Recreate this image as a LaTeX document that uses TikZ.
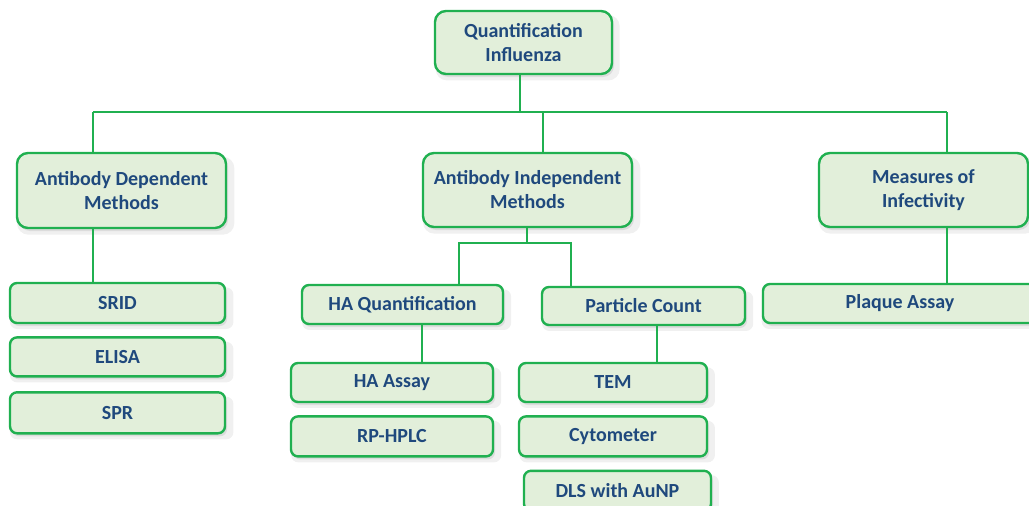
\documentclass[tikz,border=0pt]{standalone}
\usepackage{fontspec}
\setmainfont{Carlito}
\usepackage{tikz}
\usetikzlibrary{positioning, shadows}
\definecolor{BorderColor}{RGB}{32, 176, 80}
\definecolor{BoxColor}{RGB}{226, 239, 218}
\definecolor{TextColor}{RGB}{31, 73, 125}
\tikzset{
    method/.style={
        draw=BorderColor,
        line width=2.4pt,
        fill=BoxColor,
        rounded corners=11pt,
        align=center,
        font=\fontsize{20}{24}\selectfont\bfseries,
        text=TextColor,
        inner sep=0pt,
        drop shadow={opacity=0.12, shadow xshift=4pt, shadow yshift=-5pt, shadow scale=1.04},
        drop shadow={opacity=0.18, shadow xshift=2pt, shadow yshift=-3pt}
    },
    technique/.style={
        method,
        rounded corners=7pt,
        minimum height=39pt
    },
    link/.style={
        draw=BorderColor,
        line width=1.6pt
    }
}

\begin{document}
\begin{tikzpicture}[x=1pt, y=-1pt]

    \useasboundingbox (0,0) rectangle (1029,506);

    % ============================================================================
    % TOP LEVEL
    % ============================================================================

    \node[method, minimum width=177pt, minimum height=63pt] (Quantification) at (523.5, 42.5)
        {Quantification\\Influenza};

    % Level one: the three families of methods
    \node[method, minimum width=209pt, minimum height=75pt] (AbDependent) at (121.5, 190.5)
        {Antibody Dependent\\Methods};
    \node[method, minimum width=209pt, minimum height=74pt] (AbIndependent) at (527.5, 190)
        {Antibody Independent\\Methods};
    \node[method, minimum width=209pt, minimum height=74pt] (Infectivity) at (923.5, 190)
        {Measures of\\Infectivity};

    % ============================================================================
    % ANTIBODY DEPENDENT
    % ============================================================================

    \node[technique, minimum width=215pt, minimum height=40pt] (SRID) at (117.5, 303) {SRID};
    \node[technique, minimum width=215pt, below=12pt of SRID] (ELISA) {ELISA};
    \node[technique, minimum width=215pt, minimum height=41pt, below=13.5pt of ELISA] (SPR) {SPR};

    % ============================================================================
    % ANTIBODY INDEPENDENT
    % ============================================================================

    \node[technique, minimum width=201pt] (HAQuant) at (402.5, 304.5) {HA Quantification};
    \node[technique, minimum width=203pt, minimum height=38pt] (ParticleCount) at (643.5, 306) {Particle Count};

    % HA Quantification branch
    \node[technique, minimum width=202pt] (HAAssay) at (392, 382.5) {HA Assay};
    \node[technique, minimum width=202pt, minimum height=40pt, below=12pt of HAAssay] (RPHPLC) {RP-HPLC};

    % Particle Count branch
    \node[technique, minimum width=188pt] (TEM) at (613, 382.5) {TEM};
    \node[technique, minimum width=188pt, minimum height=40pt, below=12pt of TEM] (Cytometer) {Cytometer};
    \node[technique, minimum width=187pt, minimum height=40pt, below=12pt of Cytometer, xshift=4.5pt] (DLS) {DLS with AuNP};

    % ============================================================================
    % INFECTIVITY
    % ============================================================================

    \node[technique, minimum width=274pt] (Plaque) at (900, 303.5) {Plaque Assay};

    % ============================================================================
    % CONNECTORS
    % ============================================================================

    % Bus under the root
    \coordinate (BusLeft) at (93, 112);
    \coordinate (BusMid) at (543, 112);
    \coordinate (BusRight) at (947, 112);

    \draw[link] (Quantification.south -| 520,0) -- (BusLeft -| 520,0);
    \draw[link] (BusLeft) -- (BusRight);
    \draw[link] (BusLeft) -- (BusLeft |- AbDependent.north);
    \draw[link] (BusMid) -- (BusMid |- AbIndependent.north);
    \draw[link] (BusRight) -- (BusRight |- Infectivity.north);

    % Antibody dependent to its list
    \draw[link] (BusLeft |- AbDependent.south) -- (BusLeft |- SRID.north);

    % Antibody independent split
    \coordinate (SplitMid) at (527, 243);
    \coordinate (SplitLeft) at (459, 243);
    \coordinate (SplitRight) at (571, 243);
    \draw[link] (SplitMid |- AbIndependent.south) -- (SplitMid);
    \draw[link] (SplitLeft |- HAQuant.north) -- (SplitLeft) -- (SplitRight) -- (SplitRight |- ParticleCount.north);

    % Sub branches
    \draw[link] (HAQuant.south -| 422,0) -- (HAAssay.north -| 422,0);
    \draw[link] (ParticleCount.south -| 657,0) -- (TEM.north -| 657,0);

    % Infectivity to plaque assay
    \draw[link] (BusRight |- Infectivity.south) -- (BusRight |- Plaque.north);

\end{tikzpicture}
\end{document}
